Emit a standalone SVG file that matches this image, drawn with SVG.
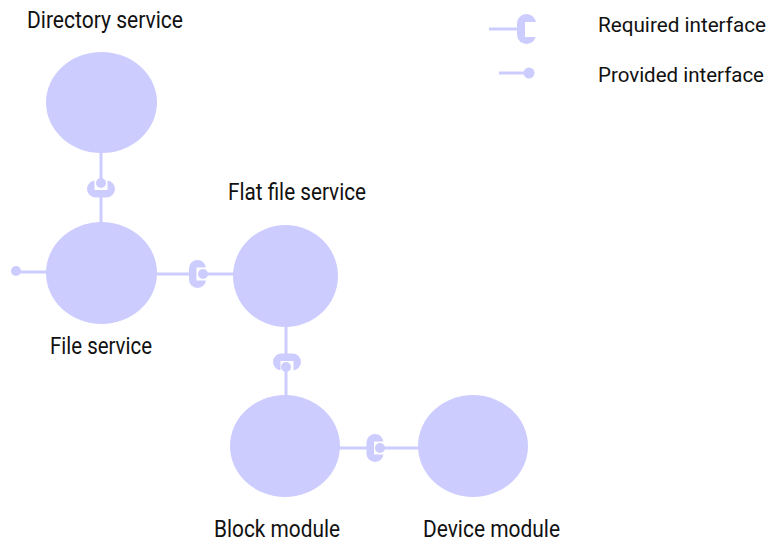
<svg xmlns="http://www.w3.org/2000/svg" xmlns:xlink="http://www.w3.org/1999/xlink" width="778" height="542" viewBox="0 0 778 542">
<style>
  .node { fill: #ccccff; }
  .ln { stroke: #ccccff; stroke-width: 3; fill: none; }
  .ball { fill: #ccccff; }
  .lbl { font-family: "Roboto", "Liberation Sans", sans-serif; font-size: 23px; fill: #111111; }
  .leg { font-size: 20px; }
</style>
<defs>
  <g id="socket">
    <rect x="-8.5" y="-14" width="17" height="28" rx="8.5" fill="#ccccff"/>
    <rect x="-1" y="-6.5" width="10" height="13" fill="#ffffff"/>
  </g>
</defs>
<rect width="778" height="542" fill="#ffffff"/>

<g id="legend">
  <line class="ln" x1="489" y1="29" x2="519" y2="29"/>
  <rect x="517" y="14" width="19" height="30" rx="9.5" fill="#ccccff"/>
  <rect x="525" y="22" width="12" height="15" fill="#ffffff"/>
  <text class="lbl leg" x="598" y="32" textLength="168" lengthAdjust="spacingAndGlyphs">Required interface</text>
  <line class="ln" x1="499" y1="73" x2="526" y2="73"/>
  <circle class="ball" cx="529" cy="73" r="5.5"/>
  <text class="lbl leg" x="598" y="82" textLength="166" lengthAdjust="spacingAndGlyphs">Provided interface</text>
</g>

<g id="connectors">
  <!-- Directory -> File -->
  <line class="ln" x1="101" y1="152" x2="101" y2="183"/>
  <use xlink:href="#socket" transform="translate(101,189) rotate(-90)"/>
  <circle class="ball" cx="101" cy="183" r="5"/>
  <line class="ln" x1="101" y1="196" x2="101" y2="223"/>
  <!-- File left provided -->
  <line class="ln" x1="16" y1="272" x2="47" y2="272"/>
  <circle class="ball" cx="16" cy="271" r="5"/>
  <!-- File -> Flat -->
  <line class="ln" x1="156" y1="274" x2="190" y2="274"/>
  <use xlink:href="#socket" transform="translate(197.5,274)"/>
  <line class="ln" x1="203" y1="274" x2="234" y2="274"/>
  <circle class="ball" cx="203" cy="274" r="5"/>
  <!-- Flat -> Block -->
  <line class="ln" x1="286" y1="326" x2="286" y2="354"/>
  <use xlink:href="#socket" transform="translate(287,362) rotate(90)"/>
  <line class="ln" x1="286" y1="367" x2="286" y2="396"/>
  <circle class="ball" cx="286" cy="367" r="5"/>
  <!-- Block -> Device -->
  <line class="ln" x1="339" y1="448" x2="367" y2="448"/>
  <use xlink:href="#socket" transform="translate(375,448)"/>
  <line class="ln" x1="380" y1="448" x2="419" y2="448"/>
  <circle class="ball" cx="380" cy="448" r="5"/>
</g>

<g id="directory-service">
  <ellipse class="node" cx="101.5" cy="102.5" rx="55.5" ry="50.5"/>
  <text class="lbl" x="27" y="28" textLength="156" lengthAdjust="spacingAndGlyphs">Directory service</text>
</g>
<g id="file-service">
  <ellipse class="node" cx="101.5" cy="273" rx="55.5" ry="51"/>
  <text class="lbl" x="50" y="354" textLength="102" lengthAdjust="spacingAndGlyphs">File service</text>
</g>
<g id="flat-file-service">
  <ellipse class="node" cx="285.5" cy="276" rx="52.5" ry="51"/>
  <text class="lbl" x="228" y="200" textLength="138" lengthAdjust="spacingAndGlyphs">Flat file service</text>
</g>
<g id="block-module">
  <ellipse class="node" cx="285" cy="446" rx="55" ry="51"/>
  <text class="lbl" x="214" y="537" textLength="126" lengthAdjust="spacingAndGlyphs">Block module</text>
</g>
<g id="device-module">
  <ellipse class="node" cx="473" cy="446" rx="55" ry="51"/>
  <text class="lbl" x="423" y="537" textLength="137" lengthAdjust="spacingAndGlyphs">Device module</text>
</g>
</svg>
